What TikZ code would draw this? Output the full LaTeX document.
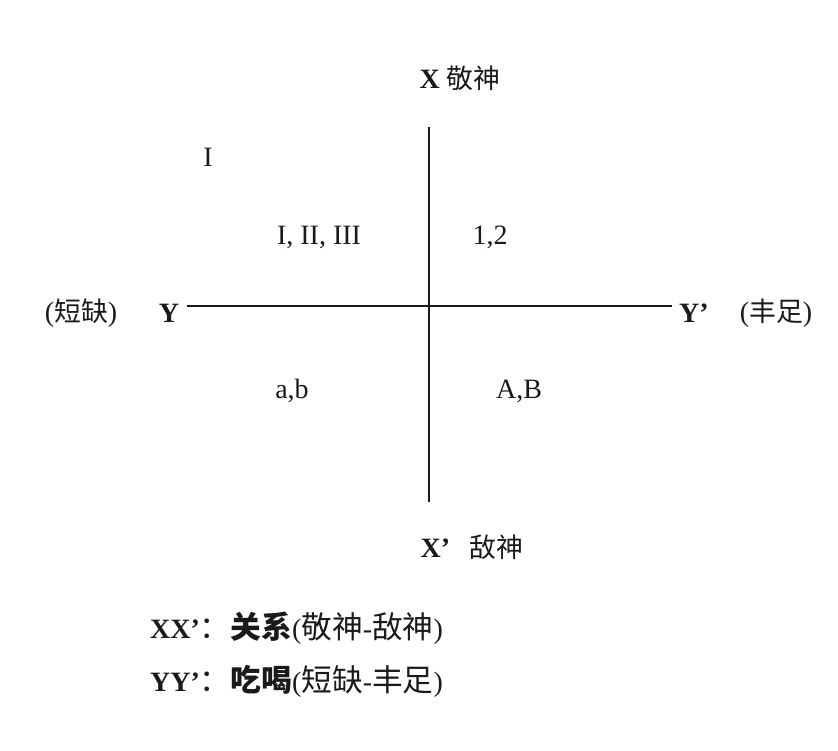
\documentclass[tikz,border=0pt]{standalone}
\usepackage{fontspec}
\setmainfont{Liberation Serif}
\newfontfamily\cjk[Scale=0.96]{Noto Sans CJK SC}
\usepackage{xcolor}
\usepackage{tikz}
\usetikzlibrary{positioning,calc}
\definecolor{inkgray}{HTML}{1A1A1A}
\newcommand{\legcjk}[1]{{\fontsize{32}{36}\selectfont\cjk #1}}

\begin{document}
\begin{tikzpicture}[x=1pt, y=-1pt, font=\fontsize{28}{32}\selectfont, text=inkgray,
  lbl/.style={inner sep=0pt, anchor=center},
  axisline/.style={draw=inkgray, line width=1.3pt}]
\useasboundingbox (0,0) rectangle (838,751);
% axis ends
\coordinate (top) at (429,127);
\coordinate (bot) at (429,502);
\coordinate (lft) at (187,306);
\coordinate (rgt) at (672,306);
\draw[axisline] (top) -- (bot);
\draw[axisline] (lft) -- (rgt);
% axis labels
\node[lbl] (xtop) at (460,78) {\textbf{X} {\cjk 敬神}};
\node[lbl] (xbot) at (472,547) {\textbf{X’}\hspace{0.7em}{\cjk 敌神}};
\node[lbl] (yl) at (169,313) {\textbf{Y}};
\node[lbl] (ylt) at (81,313) {({\cjk 短缺})};
\node[lbl] (yr) at (694,313) {\textbf{Y’}};
\node[lbl] (yrt) at (776,313) {({\cjk 丰足})};
% quadrant marks
\node[lbl] (q0) at (208,157) {I};
\node[lbl] (q1) at (319,237) {I, II, III};
\node[lbl] (q2) at (490,237) {1,2};
\node[lbl] (q3) at (292,391) {a,b};
\node[lbl] (q4) at (519,391) {A,B};
% legend
\node[lbl, anchor=west] (legx) at (150,628) {\textbf{XX’}\legcjk{：\bfseries 关系}(\legcjk{敬神}-\legcjk{敌神})};
\node[lbl, anchor=west] (legy) at (150,681) {\textbf{YY’}\legcjk{：\bfseries 吃喝}(\legcjk{短缺}-\legcjk{丰足})};
\end{tikzpicture}
\end{document}
